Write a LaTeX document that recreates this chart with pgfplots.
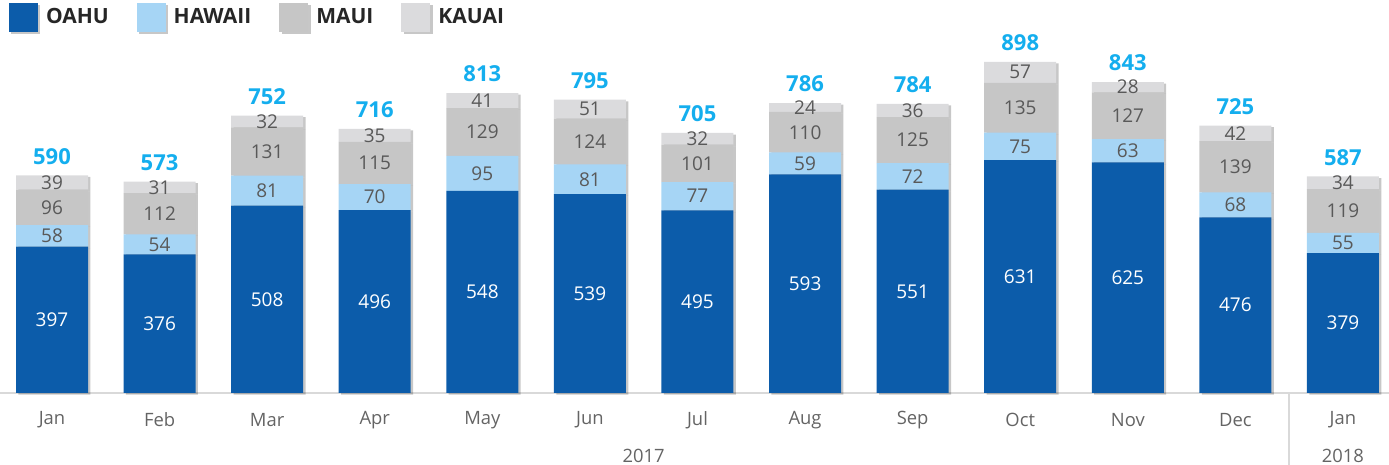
\documentclass[border=0pt]{standalone}
\usepackage{pgfplots}
\pgfplotsset{compat=1.18}
\usepackage{pgfplotstable}
\usepackage{fontspec}
\setmainfont{Open Sans}
\usetikzlibrary{shadows}
\definecolor{oahu}{RGB}{12,92,170}
\definecolor{hawaii}{RGB}{166,213,245}
\definecolor{maui}{RGB}{198,198,198}
\definecolor{kauai}{RGB}{219,219,221}
\definecolor{totalc}{RGB}{20,174,238}
\definecolor{tickc}{RGB}{100,100,100}
\definecolor{innerc}{RGB}{89,89,89}
\definecolor{legtext}{RGB}{38,38,38}

\pgfplotstableread{
x oahu hawaii maui kauai total
0 397 58 96 39 590
1 376 54 112 31 573
2 508 81 131 32 752
3 496 70 115 35 716
4 548 95 129 41 813
5 539 81 124 51 795
6 495 77 101 32 705
7 593 59 110 24 786
8 551 72 125 36 784
9 631 75 135 57 898
10 625 63 127 28 843
11 476 68 139 42 725
12 379 55 119 34 587
}\data

\begin{document}
\begin{tikzpicture}
\pgfplotsset{
  base/.style={
    scale only axis, width=694.5pt, height=176.5pt,
    xmin=-0.4834, xmax=12.428, ymin=0, ymax=957,
    /pgf/number format/assume math mode=true,
  },
  lab/.style={only marks, mark=none, nodes near coords, point meta=explicit,
    every node near coord/.append style={anchor=center, font=\fontsize{9.5}{11}\selectfont, text=innerc}},
  shad/.style={drop shadow={shadow xshift=1.2pt, shadow yshift=-0.8pt, opacity=0.22, fill=black}},
}
\begin{axis}[base, name=main, clip=false,
  ybar stacked, bar width=36pt,
  axis x line=bottom, axis y line=none,
  x axis line style={-, draw=black!15, line width=0.8pt},
  xtick=data, xticklabels={Jan,Feb,Mar,Apr,May,Jun,Jul,Aug,Sep,Oct,Nov,Dec,Jan},
  major tick length=0pt,
  xticklabel style={font=\fontsize{9.2}{11}\selectfont, text=tickc, anchor=center, yshift=-13.5pt},
  extra x ticks={5.5,12}, extra x tick labels={2017,2018},
  extra x tick style={xticklabel style={yshift=-18pt}},
  legend style={at={(axis description cs:0.00648,1.1048)}, anchor=north west,
    draw=none, fill=none, legend columns=-1, inner sep=0pt, outer sep=0pt,
    font=\fontsize{10.5}{12}\selectfont\bfseries, text=legtext,
    nodes={inner sep=1pt},
    /tikz/every even column/.append style={column sep=13pt},
    /tikz/every odd column/.append style={column sep=3pt}},
  legend image code/.code={\fill[#1] (0pt,-7.25pt) rectangle (14.5pt,7.25pt);},
]
\addplot[fill=oahu, draw=none, shad] table[x=x,y=oahu]{\data};
\addlegendentry{OAHU}
\addplot[fill=hawaii, draw=none, shad] table[x=x,y=hawaii]{\data};
\addlegendentry{HAWAII}
\addplot[fill=maui, draw=none, shad] table[x=x,y=maui]{\data};
\addlegendentry{MAUI}
\addplot[fill=kauai, draw=none, shad] table[x=x,y=kauai]{\data};
\addlegendentry{KAUAI}
\draw[black!15, line width=0.8pt] (axis cs:11.5,0) -- ++(0pt,-36pt);
\end{axis}
\begin{axis}[base, hide axis, clip=false]
\addplot[lab, every node near coord/.append style={text=white}] table[x=x, y expr=\thisrow{oahu}/2, meta=oahu]{\data};
\addplot[lab] table[x=x, y expr=\thisrow{oahu}+\thisrow{hawaii}/2, meta=hawaii]{\data};
\addplot[lab] table[x=x, y expr=\thisrow{oahu}+\thisrow{hawaii}+\thisrow{maui}/2, meta=maui]{\data};
\addplot[lab] table[x=x, y expr=\thisrow{oahu}+\thisrow{hawaii}+\thisrow{maui}+\thisrow{kauai}/2, meta=kauai]{\data};
\addplot[lab, every node near coord/.append style={anchor=base, yshift=5.6pt, text=totalc, font=\fontsize{11}{12}\selectfont\bfseries}] table[x=x, y=total, meta=total]{\data};
\end{axis}
\pgfresetboundingbox
\path (main.south west) ++(0pt,-36pt) rectangle ++(694.5pt,232.5pt);
\end{tikzpicture}
\end{document}
